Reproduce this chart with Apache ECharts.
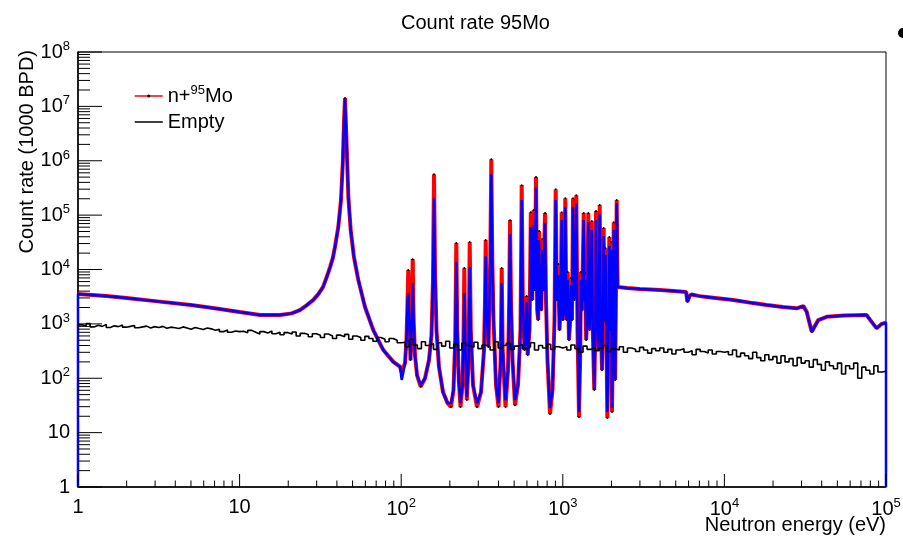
<!DOCTYPE html>
<html><head><meta charset="utf-8">
<script src="https://cdn.jsdelivr.net/npm/echarts@6/dist/echarts.min.js"></script>
<style>html,body{margin:0;padding:0;background:#fff}#c{width:903px;height:539px}</style>
</head><body><div id="c"></div>
<script>
// ---- n+95Mo count rate (red histogram) and blue overlay ----
const moEnergy = [
 1, 1, 1.5, 2, 3, 5, 7, 10, 13.4, 17.8,
 21, 23.6, 26, 28.5, 30.7, 32.8, 34.6, 36.3, 37.7, 38.9,
 40.8, 42.4, 43.5, 44.3, 44.9, 46.0, 47.1, 48.7, 51.0, 54.3,
 59.7, 67.2, 77.5, 89.4, 98.3, 100.7,
 102.6, 105.6, 107.8, 109.5, 110.6, 112.1, 114.2, 116.3, 117.8, 119.4,
 121.7, 125.3, 132, 140.4, 148.6, 154, 157.3, 159.6, 161.9, 165.3,
 171.3, 181.4, 193.4, 203.3, 210.7, 215.9, 219.3, 222.4, 227.2, 232.8,
 239.5, 242.9, 245.8, 248.9, 254.6, 261.3, 265.4, 269.6, 278.2, 294.5,
 311.8, 325.4, 330.1, 333.4, 337.7, 346.9, 355.9, 361, 366.2, 372.6,
 386.1, 400, 412.7, 418.7, 424.7, 442, 458, 466, 471.3, 478.1,
 488.4, 506, 528.2, 547.3, 556.8, 565.6, 579.6, 590.4, 597.9, 606.5,
 622.3, 634, 647.6, 660.6, 671, 682.7, 694.3, 704.3, 712.4, 722.6,
 736.2, 746.6, 757.5, 776, 787.1, 804, 833, 863.6, 888.5, 903.8,
 918.3, 937.9, 954, 971.9, 984.4, 1000, 1020, 1036, 1053, 1072,
 1092, 1111, 1124, 1140, 1157, 1176, 1195, 1212, 1233, 1260,
 1283, 1296, 1315, 1347, 1359, 1372, 1396, 1418, 1438, 1463,
 1490, 1510, 1533, 1566, 1589, 1605, 1630, 1663, 1692, 1718,
 1748, 1774, 1791, 1811, 1837, 1886, 1918, 1940, 1965, 1988,
 2016, 2045, 2066, 2110, 2156, 2184, 2205, 2500, 3000, 4000,
 5570, 5800, 5900, 6100, 6280, 7000, 8000, 11350, 15000, 18270,
 23000, 28000, 30800, 32300, 34700, 35500, 38100, 42900, 55000, 75900,
 81500, 87500, 94000, 100000, 100000
];
const moRate = [
 null, 3530, 3240, 2980, 2620, 2220, 1930, 1650, 1450, 1450,
 1560, 1790, 2200, 2740, 3530, 4750, 7250, 11070, 16000, 25800,
 60100, 189000, 900000, 5570000, 14200000, 1780000, 214000, 53000, 16900, 6380,
 2040, 769, 330, 200, 163, 130,
 125, 190, 504, 2740, 9750, 1175, 216, 1175, 15500, 1175,
 267, 114, 70, 100, 216, 622, 6380, 567000, 9750, 769,
 161, 55.7, 35, 29.6, 60.7, 504, 30600, 769, 92.7, 29.6,
 75, 504, 10600, 504, 39.7, 216, 31900, 769, 75, 29.6,
 55.7, 330, 2740, 34700, 1790, 375, 14900, 1070000, 14900, 1175,
 75, 29.6, 216, 10600, 330, 29.6, 141, 2740, 80900, 2740,
 216, 32, 75, 769, 356000, 2740, 330, 769, 3240, 267,
 769, 113000, 2740, 124000, 4180, 500000, 1790, 1175, 50800, 2740,
 1790, 36200, 4180, 109000, 2740, 216, 22, 60.7, 1175, 300000,
 2740, 12560, 769, 2740, 113000, 1175, 1790, 205000, 1175, 8960,
 504, 1175, 6950, 1175, 205000, 2740, 4180, 233000, 769, 19.3,
 330, 8960, 1790, 109000, 2740, 8590, 504, 1790, 109000, 769,
 2740, 77600, 769, 60.7, 769, 119000, 1790, 330, 153000, 1175,
 141, 1175, 57700, 1175, 24700, 18.6, 769, 39400, 769, 31900,
 23.9, 769, 74300, 92.7, 189000, 4750, 4750, 4550, 4380, 4180,
 3890, 3850, 2550, 3300, 3480, 3240, 3100, 2740, 2410, 2220,
 2040, 1930, 2120, 1670, 716, 769, 1175, 1350, 1420, 1450,
 1090, 827, 1000, 1050, null
];
const fitRate = [
 1, 3530, 3240, 2980, 2620, 2220, 1930, 1650, 1450, 1450,
 1560, 1790, 2200, 2740, 3530, 4750, 7250, 11070, 16000, 25800,
 60100, 189000, 900000, 5570000, 13500000, 1780000, 214000, 53000, 16900, 6380,
 2040, 769, 330, 200, 163, 93,
 120, 190, 504, 2740, 3680, 1175, 216, 1175, 5620, 1175,
 267, 114, 75, 100, 216, 622, 6380, 205000, 9750, 769,
 161, 55.7, 35, 35, 60.7, 504, 13700, 769, 92.7, 35,
 75, 504, 3680, 504, 45, 216, 11070, 769, 75, 35,
 55.7, 330, 2740, 17600, 1790, 375, 14900, 567000, 14900, 1175,
 75, 35, 216, 5620, 330, 39.7, 141, 2740, 44700, 2740,
 216, 39.7, 75, 769, 189000, 2740, 330, 769, 2520, 267,
 769, 60100, 2740, 65500, 4180, 327000, 1790, 1175, 34700, 2740,
 1790, 22700, 4180, 71300, 2740, 216, 28.3, 60.7, 1175, 189000,
 2740, 7890, 769, 2740, 80900, 1175, 1790, 140000, 1175, 6380,
 504, 1175, 5170, 1175, 140000, 2740, 4180, 166000, 769, 23.9,
 330, 6380, 1790, 80900, 2740, 6380, 504, 1790, 74300, 769,
 2740, 53000, 769, 60.7, 769, 80900, 1790, 330, 104000, 1175,
 141, 1175, 41100, 1175, 18400, 23.9, 769, 26900, 769, 22700,
 28.3, 769, 53000, 92.7, 166000, 4750, 4750, 4550, 4380, 4180,
 3890, 3850, 2550, 3300, 3480, 3240, 3100, 2740, 2410, 2220,
 2040, 1930, 2120, 1670, 716, 769, 1175, 1350, 1420, 1450,
 1090, 827, 1000, 1050, 1
];

// ---- Empty (black histogram), 40 log bins per decade from 1 eV to 100 keV ----
const emptyStartEnergy = 1;
const emptyBinsPerDecade = 40;
const emptyRate = [
 960, 910, 1010, 880, 940, 900, 970, 860, 920, 890,
 950, 870, 900, 930, 850, 880, 910, 840, 890, 860,
 900, 830, 870, 850, 820, 880, 840, 800, 860, 820,
 790, 840, 810, 760, 800, 720, 770, 700, 740, 720,
 730, 690, 760, 700, 650, 720, 680, 740, 660, 700,
 630, 690, 650, 710, 600, 670, 640, 580, 660, 620,
 560, 650, 600, 540, 620, 580, 640, 520, 600, 560,
 500, 590, 540, 480, 560, 520, 470, 540, 500, 450,
 460, 380, 520, 410, 350, 470, 400, 430, 340, 450,
 390, 480, 360, 420, 330, 440, 400, 370, 460, 350,
 410, 380, 330, 470, 360, 400, 440, 340, 390, 420,
 350, 380, 450, 330, 400, 360, 420, 340, 380, 360,
 380, 330, 410, 350, 300, 390, 340, 370, 320, 360,
 400, 310, 350, 330, 380, 300, 360, 340, 310, 370,
 330, 290, 350, 320, 360, 300, 340, 280, 330, 350,
 300, 320, 270, 340, 310, 290, 330, 280, 310, 300,
 310, 270, 330, 250, 290, 260, 230, 300, 240, 210,
 270, 220, 250, 190, 260, 200, 230, 170, 240, 190,
 210, 160, 220, 180, 140, 200, 170, 150, 190, 120,
 170, 150, 190, 100, 160, 140, 120, 170, 130, 135
];

// ---- axes ----
const xMin = 1, xMax = 1e5, yMin = 1, yMax = 1e8;
const titleText = 'Count rate 95Mo';
const xTitle = 'Neutron energy (eV)';
const yTitle = 'Count rate (1000 BPD)';
const legendNames = ['n+95Mo', 'Empty'];

const FONT = '"Liberation Sans", Arial, Helvetica, sans-serif';

const moData = moEnergy.map((e, i) => [e, moRate[i]]);
const fitData = moEnergy.map((e, i) => [e, fitRate[i]]);
const emptyData = emptyRate.map((v, i) => [emptyStartEnergy * Math.pow(10, i / emptyBinsPerDecade), v]);
emptyData.push([emptyStartEnergy * Math.pow(10, emptyRate.length / emptyBinsPerDecade), emptyRate[emptyRate.length - 1]]);

// ROOT-style inside ticks (decades + 2..9)
const tickData = [];
for (let k = 0; Math.pow(10, k) <= xMax; k++) {
  const b = Math.pow(10, k);
  tickData.push([b, yMin, 0, 1]);
  if (b < xMax) for (let m = 2; m <= 9; m++) tickData.push([m * b, yMin, 0, 0]);
}
for (let k = 0; Math.pow(10, k) <= yMax; k++) {
  const b = Math.pow(10, k);
  tickData.push([xMin, b, 1, 1]);
  if (b < yMax) for (let m = 2; m <= 9; m++) tickData.push([xMin, m * b, 1, 0]);
}

function powLabel(v) {
  const e = Math.round(Math.log10(v));
  if (e === 0) return '1';
  if (e === 1) return '10';
  return '10{sup|' + e + '}';
}
const supRich = { sup: { fontSize: 13, fontFamily: FONT, color: '#000', padding: [0, 0, 11, 0] } };

const chart = echarts.init(document.getElementById('c'), null, { renderer: 'canvas' });
chart.setOption({
  animation: false,
  backgroundColor: '#fff',
  title: {
    text: titleText, left: 396, top: 8,
    textStyle: { fontFamily: FONT, fontSize: 20, fontWeight: 'normal', color: '#000' }
  },
  legend: {
    data: [{ name: legendNames[0] }, { name: legendNames[1], itemStyle: { opacity: 0 } }],
    orient: 'vertical', left: 134, top: 84, padding: 0,
    itemWidth: 28, itemHeight: 4, itemGap: 6,
    lineStyle: { width: 1.5 },
    formatter: n => n === 'n+95Mo' ? 'n+{sup|95}Mo' : n,
    textStyle: { fontFamily: FONT, fontSize: 20, color: '#000', rich: supRich }
  },
  grid: { left: 78, right: 17, top: 52, bottom: 52, show: true, borderColor: '#000', borderWidth: 1, containLabel: false, outerBoundsMode: 'none' },
  xAxis: {
    type: 'log', logBase: 10, min: xMin, max: xMax, splitNumber: 5,
    axisLine: { show: true, lineStyle: { color: '#000', width: 1.5 } },
    axisTick: { show: false }, splitLine: { show: false }, minorTick: { show: false },
    axisLabel: { formatter: powLabel, fontFamily: FONT, fontSize: 20, color: '#000', margin: 10, rich: supRich, showMinLabel: true, showMaxLabel: true, hideOverlap: false }
  },
  yAxis: {
    type: 'log', logBase: 10, min: yMin, max: yMax, splitNumber: 8,
    axisLine: { show: true, lineStyle: { color: '#000', width: 1.5 } },
    axisTick: { show: false }, splitLine: { show: false }, minorTick: { show: false },
    axisLabel: { formatter: powLabel, fontFamily: FONT, fontSize: 20, color: '#000', margin: 8, rich: supRich, showMinLabel: true, showMaxLabel: true, hideOverlap: false }
  },
  graphic: [
    { type: 'text', x: 27, y: 50, rotation: Math.PI / 2,
      style: { text: yTitle, font: '20px ' + FONT, fill: '#000', align: 'right', verticalAlign: 'middle' } },
    { type: 'text', x: 886, y: 525,
      style: { text: xTitle, font: '20px ' + FONT, fill: '#000', align: 'right', verticalAlign: 'middle' } },
    { type: 'circle', shape: { cx: 903, cy: 33, r: 5 }, style: { fill: '#000' } }
  ],
  series: [
    { name: 'n+95Mo', type: 'line', data: moData, z: 2,
      symbol: 'circle', symbolSize: 2, showSymbol: true, showAllSymbol: true,
      itemStyle: { color: '#000' }, lineStyle: { color: '#ff0000', width: 4 },
      connectNulls: false, emphasis: { disabled: true }, silent: true },
    { name: 'fit', type: 'line', data: fitData, z: 3, symbol: 'none',
      lineStyle: { color: '#0000ff', width: 2.5 }, emphasis: { disabled: true }, silent: true },
    { name: 'Empty', type: 'line', data: emptyData, step: 'end', z: 4, symbol: 'none',
      itemStyle: { color: '#000' }, lineStyle: { color: '#000', width: 1.6 }, emphasis: { disabled: true }, silent: true },
    { name: 'ticks', type: 'custom', data: tickData, z: 6, silent: true, clip: false,
      encode: { x: 0, y: 1 },
      renderItem: function (params, api) {
        const p = api.coord([api.value(0), api.value(1)]);
        const isY = api.value(2) === 1, major = api.value(3) === 1;
        if (isY) {
          const len = major ? 24 : 12;
          return { type: 'line', shape: { x1: p[0], y1: p[1], x2: p[0] + len, y2: p[1] }, style: { stroke: '#000', lineWidth: 1 } };
        }
        const len = major ? 13 : 6.5;
        return { type: 'line', shape: { x1: p[0], y1: p[1], x2: p[0], y2: p[1] - len }, style: { stroke: '#000', lineWidth: 1 } };
      }
    }
  ]
});
</script></body></html>
